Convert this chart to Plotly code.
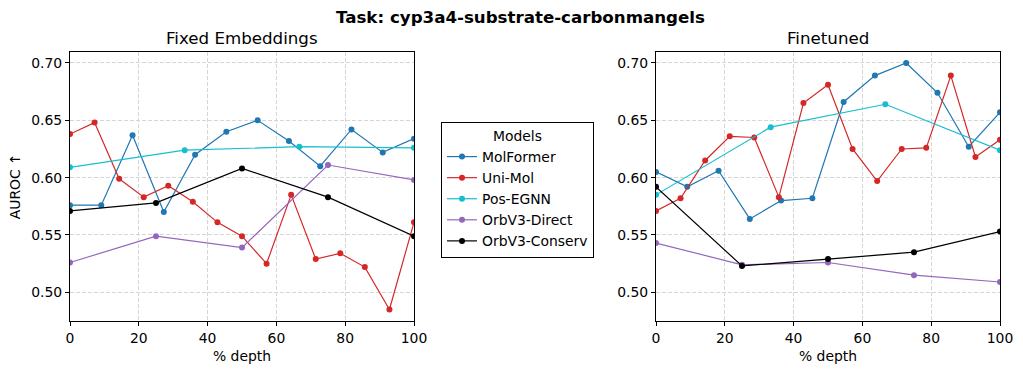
import plotly.graph_objects as go

# x positions (% depth) for each model's layers
x_molformer = [0, 9.09, 18.18, 27.27, 36.36, 45.45, 54.55, 63.64, 72.73, 81.82, 90.91, 100]
x_unimol = [0, 7.14, 14.29, 21.43, 28.57, 35.71, 42.86, 50, 57.14, 64.29, 71.43, 78.57, 85.71, 92.86, 100]
x_posegnn = [0, 33.33, 66.67, 100]
x_orb = [0, 25, 50, 75, 100]

# Fixed embeddings AUROC
fixed_molformer = [0.576, 0.576, 0.637, 0.570, 0.620, 0.640, 0.650, 0.632, 0.610, 0.642, 0.622, 0.634]
fixed_unimol = [0.638, 0.648, 0.599, 0.583, 0.593, 0.579, 0.561, 0.549, 0.525, 0.585, 0.529, 0.534, 0.522, 0.485, 0.561]
fixed_posegnn = [0.609, 0.624, 0.627, 0.626]
fixed_orb_direct = [0.526, 0.549, 0.539, 0.611, 0.598]
fixed_orb_conserv = [0.571, 0.578, 0.608, 0.583, 0.549]

# Finetuned AUROC
ft_molformer = [0.605, 0.592, 0.606, 0.564, 0.580, 0.582, 0.666, 0.689, 0.700, 0.674, 0.627, 0.657]
ft_unimol = [0.571, 0.582, 0.615, 0.636, 0.635, 0.583, 0.665, 0.681, 0.625, 0.597, 0.625, 0.626, 0.689, 0.618, 0.633]
ft_posegnn = [0.585, 0.644, 0.664, 0.624]
ft_orb_direct = [0.543, 0.524, 0.526, 0.515, 0.509]
ft_orb_conserv = [0.592, 0.523, 0.529, 0.535, 0.553]

MODELS = ['MolFormer', 'Uni-Mol', 'Pos-EGNN', 'OrbV3-Direct', 'OrbV3-Conserv']
COLORS = ['#1f77b4', '#d62728', '#17becf', '#9467bd', '#000000']
XS = [x_molformer, x_unimol, x_posegnn, x_orb, x_orb]
FIXED = [fixed_molformer, fixed_unimol, fixed_posegnn, fixed_orb_direct, fixed_orb_conserv]
FINETUNED = [ft_molformer, ft_unimol, ft_posegnn, ft_orb_direct, ft_orb_conserv]

FONT = 'DejaVu Sans'
SMALL = 13.9   # 10pt
LARGE = 16.67  # 12pt

fig = go.Figure()
for name, color, xs, yf, yt in zip(MODELS, COLORS, XS, FIXED, FINETUNED):
    fig.add_trace(go.Scatter(x=xs, y=yf, mode='lines+markers', name=name,
                             line=dict(color=color, width=1.2), marker=dict(color=color, size=6),
                             xaxis='x', yaxis='y'))
    fig.add_trace(go.Scatter(x=xs, y=yt, mode='lines+markers', name=name,
                             showlegend=False,
                             line=dict(color=color, width=1.2), marker=dict(color=color, size=6),
                             xaxis='x2', yaxis='y2'))

W, H = 1023, 374
ydom = [1 - 321 / H, 1 - 51.5 / H]
axis_common = dict(showgrid=True, gridcolor='#d6d6d6', griddash='4px,2px', gridwidth=1,
                   showline=True, linecolor='black', linewidth=1, mirror=True,
                   ticks='outside', ticklen=4, tickcolor='black', zeroline=False,
                   tickfont=dict(family=FONT, size=SMALL, color='black'), automargin=False)
xcommon = dict(axis_common, range=[0, 100], tickvals=[0, 20, 40, 60, 80, 100],
               title=dict(text='% depth', font=dict(family=FONT, size=SMALL, color='black'), standoff=6))
ycommon = dict(axis_common, range=[0.475, 0.710], tickvals=[0.50, 0.55, 0.60, 0.65, 0.70],
               tickformat='.2f')

fig.update_layout(
    width=W, height=H,
    margin=dict(l=0, r=0, t=0, b=0),
    paper_bgcolor='white', plot_bgcolor='white',
    font=dict(family=FONT, size=SMALL, color='black'),
    xaxis=dict(xcommon, domain=[70 / W, 414 / W], anchor='y'),
    yaxis=dict(ycommon, domain=ydom, anchor='x',
               title=dict(text='AUROC ↑', font=dict(family=FONT, size=SMALL, color='black'), standoff=7)),
    xaxis2=dict(xcommon, domain=[656 / W, 1000 / W], anchor='y2'),
    yaxis2=dict(ycommon, domain=ydom, anchor='x2'),
    legend=dict(x=441 / W, y=1 - 122 / H, xanchor='left', yanchor='top',
                bordercolor='black', borderwidth=1, bgcolor='white',
                font=dict(family=FONT, size=SMALL), tracegroupgap=0,
                title=dict(text='Models', side='top center', font=dict(family=FONT, size=SMALL))),
    showlegend=True,
    annotations=[
        dict(text='<b>Task: cyp3a4-substrate-carbonmangels</b>', x=520 / W, y=1 - 18 / H,
             xref='paper', yref='paper', yanchor='middle', xanchor='center', showarrow=False,
             font=dict(family=FONT, size=LARGE)),
        dict(text='Fixed Embeddings', x=242 / W, y=1 - 39 / H, xref='paper', yref='paper',
             yanchor='middle', xanchor='center', showarrow=False, font=dict(family=FONT, size=LARGE)),
        dict(text='Finetuned', x=828 / W, y=1 - 39 / H, xref='paper', yref='paper',
             yanchor='middle', xanchor='center', showarrow=False, font=dict(family=FONT, size=LARGE)),
    ],
)

# drop the default page margin so the figure sits at the window origin
fig.write_html('out.html', config={'displayModeBar': False},
               post_script="document.body.style.margin='0';")
